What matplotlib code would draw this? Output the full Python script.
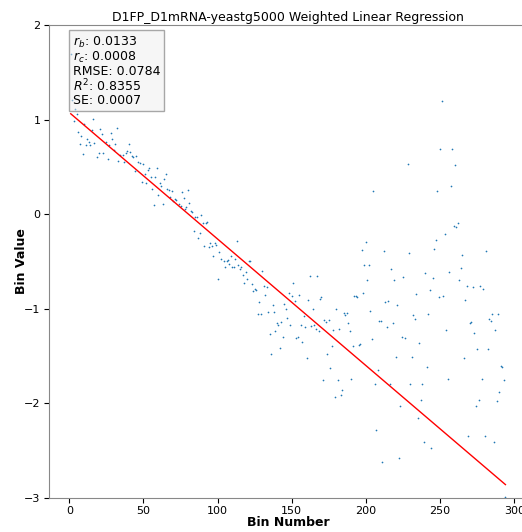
import matplotlib
matplotlib.use('Agg')
import matplotlib.pyplot as plt
import numpy as np

# bin numbers and bin values
bins = [1, 2, 3, 4, 5, 6, 7, 8, 9, 10, 11, 12, 13, 14, 15, 16, 17, 19, 20, 21,
        22, 23, 25, 26, 27, 28, 29, 30, 31, 32, 33, 34, 36, 37, 38, 39, 40, 41, 42, 43,
        44, 45, 46, 48, 49, 50, 51, 52, 53, 54, 55, 56, 57, 58, 59, 60, 61, 62, 63, 64,
        65, 66, 67, 68, 69, 70, 71, 72, 74, 75, 76, 77, 78, 79, 80, 81, 82, 83, 84, 85,
        86, 87, 88, 89, 90, 91, 92, 93, 94, 95, 96, 97, 98, 99, 100, 101, 102, 104, 105, 106,
        107, 108, 109, 110, 111, 112, 113, 114, 115, 116, 117, 118, 119, 120, 121, 122, 123, 124, 125, 126,
        127, 128, 129, 130, 131, 132, 133, 134, 135, 136, 137, 138, 139, 140, 141, 142, 143, 144, 145, 146,
        147, 148, 149, 150, 151, 152, 153, 154, 155, 156, 157, 158, 159, 160, 161, 162, 163, 164, 165, 166,
        167, 168, 169, 170, 171, 172, 173, 174, 175, 176, 177, 178, 179, 180, 181, 182, 183, 184, 185, 186,
        187, 188, 189, 190, 191, 192, 193, 194, 195, 196, 197, 198, 199, 200, 201, 202, 203, 204, 205, 206,
        207, 208, 209, 210, 211, 212, 213, 214, 215, 216, 217, 218, 219, 220, 221, 222, 223, 224, 225, 226,
        228, 229, 230, 231, 232, 233, 234, 235, 236, 237, 238, 239, 240, 241, 242, 243, 244, 245, 246, 247,
        248, 249, 250, 251, 252, 253, 254, 255, 256, 257, 258, 259, 260, 261, 262, 263, 264, 265, 266, 267,
        268, 269, 270, 271, 272, 273, 274, 275, 276, 277, 278, 279, 280, 281, 282, 283, 284, 285, 286, 287,
        288, 289, 290, 291, 292, 293, 294]
values = [1.69, 1.21, 0.99, 1.11, 1.06, 0.87, 0.74, 0.83, 0.64, 0.95, 0.73, 0.80, 0.76, 0.73, 0.89, 1.01, 0.75, 0.60, 0.65, 0.90,
          0.85, 0.65, 0.76, 0.58, 0.73, 0.86, 0.79, 0.68, 0.74, 0.91, 0.56, 0.63, 0.63, 0.55, 0.65, 0.67, 0.74, 0.66, 0.62, 0.60,
          0.46, 0.61, 0.55, 0.54, 0.34, 0.53, 0.43, 0.33, 0.47, 0.49, 0.39, 0.27, 0.10, 0.39, 0.49, 0.20, 0.33, 0.30, 0.11, 0.37,
          0.42, 0.27, 0.26, 0.18, 0.24, 0.14, 0.16, 0.15, 0.11, 0.09, 0.23, 0.17, 0.05, 0.08, 0.26, 0.12, 0.03, 0.02, -0.18, -0.03,
          -0.03, -0.25, -0.20, -0.01, -0.09, -0.34, -0.09, -0.08, -0.35, -0.30, -0.34, -0.44, -0.30, -0.33, -0.68, -0.40, -0.47, -0.49, -0.56, -0.49,
          -0.48, -0.53, -0.44, -0.56, -0.56, -0.47, -0.28, -0.54, -0.58, -0.56, -0.64, -0.73, -0.61, -0.69, -0.49, -0.50, -0.74, -0.81, -0.79, -0.80,
          -1.05, -0.93, -1.05, -0.60, -0.76, -0.85, -0.77, -1.03, -1.27, -1.48, -0.96, -1.03, -1.23, -1.15, -1.17, -1.41, -1.14, -1.30, -0.95, -1.00,
          -1.10, -0.83, -1.17, -0.86, -0.73, -0.92, -1.31, -1.30, -0.85, -1.17, -1.35, -1.08, -1.19, -1.52, -0.91, -0.65, -1.18, -1.00, -1.17, -1.21,
          -0.65, -1.23, -0.90, -0.88, -1.75, -1.12, -1.14, -1.48, -1.12, -1.63, -1.39, -1.22, -1.93, -1.00, -1.75, -1.21, -1.91, -1.86, -1.04, -1.07,
          -1.04, -1.15, -1.23, -1.74, -1.39, -0.87, -0.86, -0.88, -1.38, -1.37, -0.38, -0.83, -0.54, -0.29, -0.70, -0.54, -1.02, -1.32, 0.24, -1.80,
          -2.28, -1.65, -1.13, -1.13, -2.62, -0.39, -0.93, -1.19, -0.92, -1.80, -0.58, -1.15, -0.70, -1.51, -0.96, -2.58, -2.03, -1.30, -0.66, -1.31,
          0.53, -0.41, -1.80, -1.51, -1.07, -1.11, -0.84, -2.15, -1.36, -1.96, -1.80, -2.41, -0.62, -1.62, -1.05, -0.80, -2.47, -0.67, -0.37, -0.27,
          0.25, -0.88, 0.69, 1.20, -0.86, -0.21, -1.22, -1.74, -0.61, 0.30, 0.69, -0.12, 0.52, -0.14, -0.09, -0.70, -0.57, -0.43, -1.52, -0.91,
          -0.76, -2.35, -1.15, -1.14, -0.77, -1.26, -2.03, -1.42, -1.96, -0.76, -1.74, -0.79, -2.35, -0.39, -1.42, -1.11, -1.13, -1.06, -2.41, -1.22,
          -1.98, -1.06, -1.88, -1.60, -1.62, -1.75, -2.99]

# weighted fit parameters and stats shown in the box
intercept = 1.075
slope = -0.01338
stats_labels = [r'$r_b$', r'$r_c$', 'RMSE', r'$R^2$', 'SE']
stats_values = ['0.0133', '0.0008', '0.0784', '0.8355', '0.0007']

fig = plt.figure(figsize=(5.22, 5.32), dpi=100)
ax = fig.add_axes([0.0939, 0.064, 0.916, 0.889])

ax.scatter(bins, values, s=1.5, color='#1f77b4', linewidths=0, zorder=2)
x_fit = np.array([min(bins), max(bins)])
ax.plot(x_fit, intercept + slope * x_fit, color='red', linewidth=1, zorder=3)

ax.set_ylim(-3, 2)
ax.set_xticks([0, 50, 100, 150, 200, 250, 300])
ax.set_yticks([-3, -2, -1, 0, 1, 2])
ax.tick_params(labelsize=8, pad=2.5)
ax.set_xlabel('Bin Number', fontsize=9, fontweight='bold', labelpad=-0.5)
ax.set_ylabel('Bin Value', fontsize=9, fontweight='bold', labelpad=-3)
ax.set_title('D1FP_D1mRNA-yeastg5000 Weighted Linear Regression', fontsize=9, pad=3)

for side in ['top', 'right', 'bottom', 'left']:
    ax.spines[side].set_color('#888888')

text = '\n'.join(f'{k}: {v}' for k, v in zip(stats_labels, stats_values))
ax.text(0.05, 0.98, text, transform=ax.transAxes, fontsize=9, va='top', ha='left',
        linespacing=1.0,
        bbox=dict(boxstyle='square,pad=0.3', facecolor='#eeeeee', edgecolor='#555555', alpha=0.5))

fig.savefig('out.png', dpi=100)
